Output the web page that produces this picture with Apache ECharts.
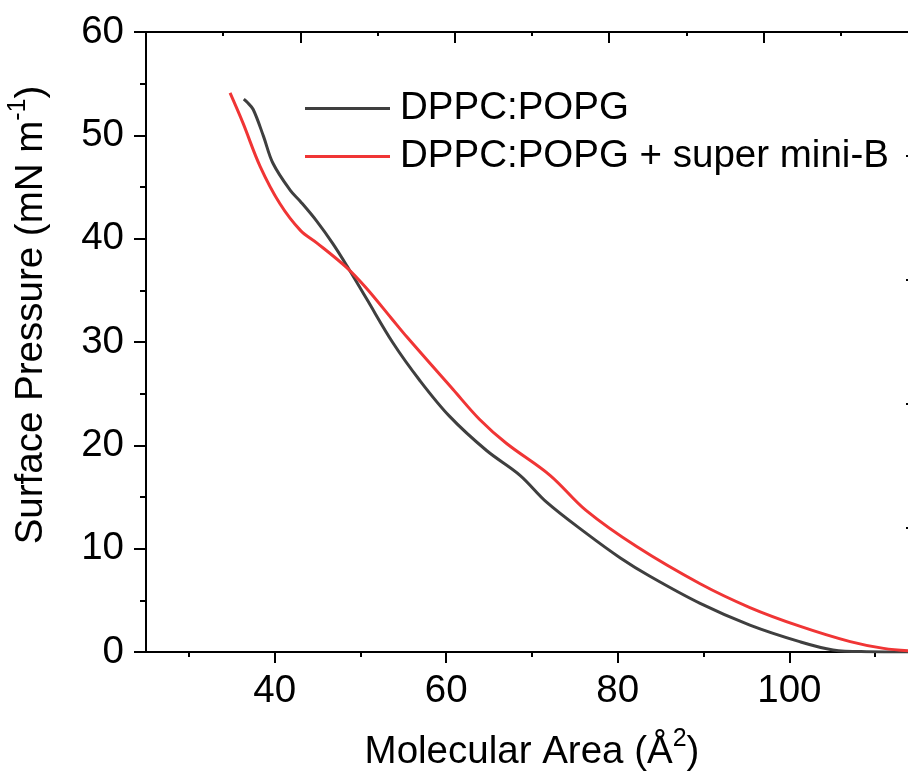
<!DOCTYPE html>
<html>
<head>
<meta charset="utf-8">
<script src="https://cdn.jsdelivr.net/npm/echarts@6/dist/echarts.min.js"></script>
<style>
html,body{margin:0;padding:0;background:#fff;}
#chart{width:908px;height:779px;}
</style>
</head>
<body>
<div id="chart"></div>
<script>
// ---- data ----
const seriesNames = ['DPPC:POPG', 'DPPC:POPG + super mini-B'];

const blackArea = [36.4, 36.8, 37.5, 38.7, 39.8, 41.8, 43.0, 44.9, 46.8, 48.4, 50.7, 53.8, 56.9, 60.4, 64.7, 68.6, 71.7, 76.3, 80.3, 83.8, 89.6, 95.4, 101.2, 105.1, 109.0, 115.0];
const blackPressure = [53.5, 53.2, 52.5, 49.9, 47.3, 44.7, 43.6, 41.7, 39.5, 37.4, 34.2, 29.9, 26.3, 22.8, 19.5, 17.1, 14.5, 11.5, 9.1, 7.3, 4.7, 2.6, 1.0, 0.2, 0.03, 0.0];

const redArea = [34.8, 36.3, 38.3, 40.6, 43.0, 44.9, 48.4, 50.7, 53.6, 55.4, 60.8, 63.9, 67.0, 72.1, 76.3, 82.2, 89.6, 95.4, 101.2, 107.1, 111.0, 115.0];
const redPressure = [54.1, 51.2, 47.0, 43.4, 40.8, 39.6, 37.2, 35.2, 32.3, 30.5, 25.4, 22.5, 20.2, 17.1, 13.7, 10.2, 6.6, 4.3, 2.5, 1.0, 0.35, 0.05];

const xMajorTicks = [40, 60, 80, 100];
const xMinorTicks = [30, 50, 70, 90, 110];

// ---- build ----
const FONT = 'Liberation Sans, Arial, sans-serif';
const FS = 38.5;
const zip = (a, b) => a.map((v, i) => [v, b[i]]);
const supStyle = { fontSize: 25, verticalAlign: 'top', color: '#000', fontFamily: FONT, lineHeight: 20 };

const chart = echarts.init(document.getElementById('chart'));
chart.setOption({
  animation: false,
  backgroundColor: '#ffffff',
  textStyle: { fontFamily: FONT },
  grid: { left: 146, width: 772, top: 32, height: 620, containLabel: false, outerBoundsMode: 'none' },
  legend: {
    orient: 'vertical',
    left: 305,
    top: 89,
    padding: 0,
    itemWidth: 85,
    itemHeight: 14,
    itemGap: 9,
    icon: 'path://M0,5.5 L85,5.5 L85,8.5 L0,8.5 Z',
    textStyle: { fontSize: FS, color: '#000', fontFamily: FONT, padding: [0, 0, 0, 5] },
    data: seriesNames
  },
  xAxis: [
    {
      type: 'value', position: 'bottom', min: 25, max: 115,
      name: 'Molecular Area (Å{sup|2})',
      nameLocation: 'middle', nameGap: 75,
      nameTextStyle: {
        fontSize: FS, color: '#000', fontFamily: FONT, lineHeight: 50,
        rich: { sup: supStyle }
      },
      axisLine: { show: true, lineStyle: { color: '#000', width: 2 } },
      axisTick: { show: true, customValues: xMajorTicks, length: 11, lineStyle: { color: '#000', width: 2 } },
      axisLabel: { show: true, customValues: xMajorTicks, fontSize: FS, color: '#000', fontFamily: FONT, margin: 20 },
      splitLine: { show: false }
    },
    {
      type: 'value', position: 'bottom', min: 25, max: 115,
      axisLine: { show: false },
      axisTick: { show: true, customValues: xMinorTicks, length: 5, lineStyle: { color: '#000', width: 2 } },
      axisLabel: { show: false },
      splitLine: { show: false }
    },
    {
      type: 'value', position: 'top', min: 0, max: 5, interval: 1,
      axisLine: { show: true, onZero: false, lineStyle: { color: '#000', width: 2 } },
      axisTick: { show: true, inside: true, length: 11, lineStyle: { color: '#000', width: 2 } },
      minorTick: { show: true, splitNumber: 2, length: 4, lineStyle: { color: '#000', width: 2 } },
      axisLabel: { show: false },
      splitLine: { show: false }
    }
  ],
  yAxis: [
    {
      type: 'value', position: 'left', min: 0, max: 60, interval: 10,
      name: 'Surface Pressure (mN m{sup|-1})',
      nameLocation: 'middle', nameGap: 90,
      nameTextStyle: {
        fontSize: FS, color: '#000', fontFamily: FONT, lineHeight: 50, padding: [0, 0, 0, 54],
        rich: { sup: supStyle }
      },
      axisLine: { show: true, onZero: false, lineStyle: { color: '#000', width: 2 } },
      axisTick: { show: true, length: 12, lineStyle: { color: '#000', width: 2 } },
      minorTick: { show: true, splitNumber: 2, length: 6, lineStyle: { color: '#000', width: 2 } },
      axisLabel: { show: true, fontSize: FS, color: '#000', fontFamily: FONT, margin: 22 },
      splitLine: { show: false }
    },
    {
      type: 'value', position: 'right', min: 0, max: 5, interval: 1,
      axisLine: { show: true, onZero: false, lineStyle: { color: '#000', width: 2 } },
      axisTick: { show: true, inside: true, length: 12, lineStyle: { color: '#000', width: 2 } },
      minorTick: { show: true, splitNumber: 2, length: 4, lineStyle: { color: '#000', width: 2 } },
      axisLabel: { show: false },
      splitLine: { show: false }
    }
  ],
  series: [
    {
      name: seriesNames[0], type: 'line', xAxisIndex: 0, yAxisIndex: 0,
      data: zip(blackArea, blackPressure),
      showSymbol: false, symbol: 'none', smooth: 0.35,
      lineStyle: { color: '#3f3f3f', width: 3 },
      itemStyle: { color: '#3f3f3f' }
    },
    {
      name: seriesNames[1], type: 'line', xAxisIndex: 0, yAxisIndex: 0,
      data: zip(redArea, redPressure),
      showSymbol: false, symbol: 'none', smooth: 0.35,
      lineStyle: { color: '#f03535', width: 3 },
      itemStyle: { color: '#f03535' }
    }
  ]
});
</script>
</body>
</html>
